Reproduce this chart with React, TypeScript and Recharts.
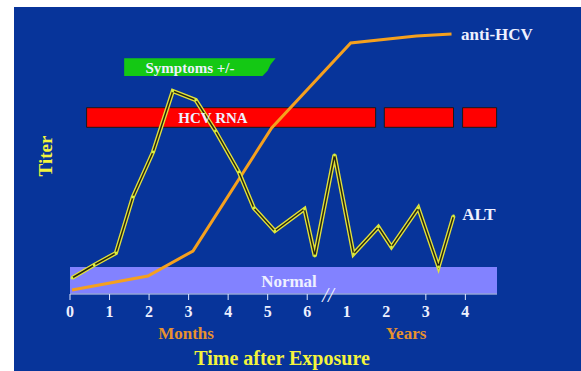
import React from 'react';
import {
  LineChart,
  Line,
  XAxis,
  YAxis,
  ReferenceArea,
} from 'recharts';

// x in "slide units": 0..6 = months, 7..10 = years 1..4
const tickValues = [0, 1, 2, 3, 4, 5, 6, 7, 8, 9, 10];
const tickLabels = ['0', '1', '2', '3', '4', '5', '6', '1', '2', '3', '4'];

const altX = [0.05, 0.61, 1.16, 1.59, 2.1, 2.6, 3.18, 3.68, 4.27, 4.65, 5.18, 5.93, 6.19, 6.69, 7.17, 7.8, 8.13, 8.81, 9.32, 9.7];
const altY = [16, 29, 41, 97, 142, 203, 194, 163, 122, 86, 63, 85, 38, 139, 40, 67, 47, 86, 27, 78];

const antiX = [0.05, 1.97, 3.11, 5.1, 7.1, 8.76, 9.65];
const antiY = [4, 18, 43, 166, 251, 258, 260];

const rnaStart = [0.42, 7.95, 9.93];
const rnaEnd = [7.73, 9.7, 10.79];

const symptomsStart = 1.37;
const symptomsEnd = 5.2;

const normalLimit = 27;

const altData = altX.map((x, i) => ({ x, alt: altY[i] }));
const antiData = antiX.map((x, i) => ({ x, anti: antiY[i] }));

const BG = '#07349a';
const WHITE = '#eef0ff';
const YELLOW = '#f4f43c';
const ORANGE = '#e8922e';
const SERIF = '"Liberation Serif", "Times New Roman", serif';

const XTick = (props: any) => {
  const { x, y, index } = props;
  const noLine = index === 7 || index === 8;
  return (
    <g>
      {!noLine && <line x1={x} x2={x} y1={y - 12} y2={y - 6} stroke="#dfe6ff" strokeWidth={1} />}
      <text x={x} y={y} dy="0.71em" textAnchor="middle" fill={WHITE}
        fontFamily={SERIF} fontWeight="bold" fontSize={16}>
        {tickLabels[index]}
      </text>
    </g>
  );
};

const TornBar = (props: any) => {
  const { x, y, width, height } = props;
  const r = x + width;
  const pts = [
    [x, y], [r, y], [r - 5, y + height * 0.35], [r - 8, y + height * 0.7], [r - 13, y + height],
    [x, y + height],
  ].map((p) => p.join(',')).join(' ');
  return <polygon points={pts} fill="#14c814" />;
};

const label = (text: string, left: number, top: number, size: number, color: string, extra: any = {}) => (
  <div style={{
    position: 'absolute', left, top, transform: 'translate(-50%, -50%)', whiteSpace: 'nowrap',
    fontFamily: SERIF, fontWeight: 'bold', fontSize: size, color, lineHeight: 1, ...extra,
  }}>{text}</div>
);

export default function App() {
  return (
    <div style={{ position: 'absolute', left: 0, top: 0, width: 581, height: 371, background: '#fff' }}>
      <div style={{ position: 'absolute', left: 14, top: 7, width: 567, height: 364, background: BG }} />
      <div style={{ position: 'absolute', left: 0, top: 0 }}>
        <LineChart width={581} height={371} margin={{ top: 24, right: 84, left: 70, bottom: 47 }}>
          <XAxis
            type="number"
            dataKey="x"
            domain={[0, 10.8]}
            ticks={tickValues}
            interval={0}
            allowDataOverflow
            height={30}
            axisLine={{ stroke: '#93a3d6', strokeWidth: 1.5 }}
            tickLine={false}
            tickSize={6}
            tickMargin={6}
            tick={<XTick />}
          />
          <YAxis
            type="number"
            domain={[0, 270]}
            width={0}
            tick={false}
            tickLine={false}
            axisLine={{ stroke: '#93a3d6', strokeWidth: 1.5 }}
          />
          <ReferenceArea x1={0} x2={10.8} y1={0} y2={normalLimit} fill="#8282ff" fillOpacity={1} stroke="none" />
          {rnaStart.map((s, i) => (
            <ReferenceArea key={i} x1={s} x2={rnaEnd[i]} y1={166.7} y2={186.3}
              fill="#ff0000" fillOpacity={1} stroke="#1a1a1a" strokeWidth={1} />
          ))}
          <ReferenceArea x1={symptomsStart} x2={symptomsEnd} y1={218} y2={235.7} shape={<TornBar />} />
          <Line data={antiData} dataKey="anti" type="linear" stroke="#f5a01e" strokeWidth={3}
            dot={false} isAnimationActive={false} />
          <Line data={altData} dataKey="alt" type="linear" stroke="#e2e23a" strokeWidth={4.2}
            dot={false} isAnimationActive={false} />
          <Line data={altData} dataKey="alt" type="linear" stroke="#26260e" strokeWidth={1.5}
            dot={{ r: 1.4, fill: '#d8f040', stroke: 'none' }} isAnimationActive={false} />
        </LineChart>
      </div>
      {label('Symptoms +/-', 190, 68, 15, WHITE)}
      {label('HCV RNA', 213, 118, 15, WHITE)}
      {label('Normal', 289, 281, 17, WHITE)}
      {label('anti-HCV', 497, 34, 17, WHITE)}
      {label('ALT', 479, 214, 17, WHITE)}
      {label('Titer', 45, 156, 19, YELLOW, { transform: 'translate(-50%, -50%) rotate(-90deg)' })}
      {label('Months', 186, 333, 17, ORANGE)}
      {label('Years', 406, 333, 17, ORANGE)}
      {label('Time after Exposure', 282, 358, 20, YELLOW)}
      {label('//', 328, 295, 21, WHITE, { fontStyle: 'italic', fontWeight: 'normal' })}
    </div>
  );
}
